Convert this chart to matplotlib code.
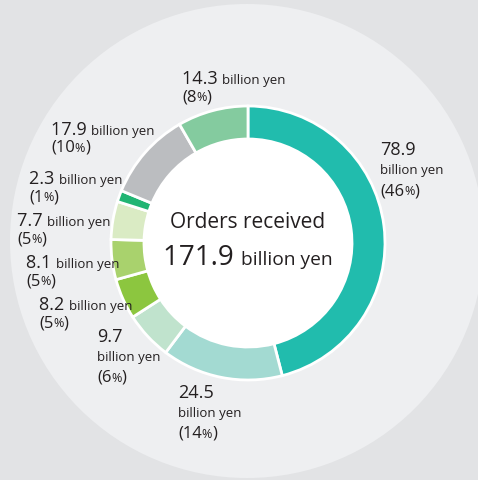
import matplotlib
matplotlib.use('Agg')
import matplotlib.pyplot as plt
from matplotlib.patches import Circle

plt.rcParams['font.family'] = ['Open Sans', 'DejaVu Sans']

# Orders received by segment (billion yen), clockwise from 12 o'clock
values = [78.9, 24.5, 9.7, 8.2, 8.1, 7.7, 2.3, 17.9, 14.3]
value_labels = ['78.9', '24.5', '9.7', '8.2', '8.1', '7.7', '2.3', '17.9', '14.3']
percents = ['46', '14', '6', '5', '5', '5', '1', '10', '8']
colors = ['#21bcad', '#a3dad2', '#c0e3cd', '#8cc63f', '#a9d26d',
          '#daebc4', '#21b573', '#bbbdc0', '#84cb9f']
total_label = '171.9'
title = 'Orders received'
unit = 'billion yen'

# label layout: (x, baseline y, stacked?) in pixels
label_pos = [(380, 155, True), (178, 398, True), (97, 342, True),
             (39, 310, False), (26, 268, False), (17, 226, False),
             (29, 184, False), (51, 135, False), (182, 84, False)]

TXT = '#231f20'
W, H = 478, 480

fig = plt.figure(figsize=(W / 100, H / 100), dpi=100)
fig.patch.set_facecolor('#e2e3e5')
ax = fig.add_axes([0, 0, 1, 1])

ax.add_patch(Circle((247, 241), 237, facecolor='#eeeff1', edgecolor='none', zorder=0))

ax.pie(values, colors=colors, center=(248, 243), radius=137,
       startangle=-90, counterclock=True,
       wedgeprops=dict(width=33, edgecolor='white', linewidth=2))
ax.add_patch(Circle((248, 243), 104, facecolor='white', edgecolor='none', zorder=1))

ax.set_xlim(0, W)
ax.set_ylim(H, 0)
ax.set_aspect('auto')
ax.axis('off')

renderer = fig.canvas.get_renderer()


def run(x, y, parts, gap=0):
    """draw text pieces one after another on a baseline"""
    for s, size in parts:
        t = ax.text(x, y, s, fontsize=size, color=TXT, ha='left', va='baseline', zorder=5)
        bb = t.get_window_extent(renderer)
        x = bb.x1 + gap
    return x


def pct_parts(p, size):
    return [('(' + p, size), ('%', size * 0.75), (')', size)]


for (x, y, stacked), v, p in zip(label_pos, value_labels, percents):
    if stacked:
        run(x, y, [(v, 13)])
        run(x, y + 19, [(unit, 9.5)])
        run(x, y + 40, pct_parts(p, 12))
    else:
        run(x, y, [(v + ' ', 13), (unit, 9.5)])
        run(x, y + 17, pct_parts(p, 12))

ax.text(248, 228, title, fontsize=15, color=TXT, ha='center', va='baseline', zorder=5)
t1 = ax.text(0, 265, total_label + ' ', fontsize=20, color=TXT, ha='left', va='baseline')
t2 = ax.text(0, 265, unit, fontsize=13.8, color=TXT, ha='left', va='baseline')
w1 = t1.get_window_extent(renderer).width
w2 = t2.get_window_extent(renderer).width
x0 = 248 - (w1 + w2) / 2
t1.set_x(x0)
t2.set_x(x0 + w1)

fig.savefig('out.png', dpi=100, facecolor=fig.get_facecolor())
